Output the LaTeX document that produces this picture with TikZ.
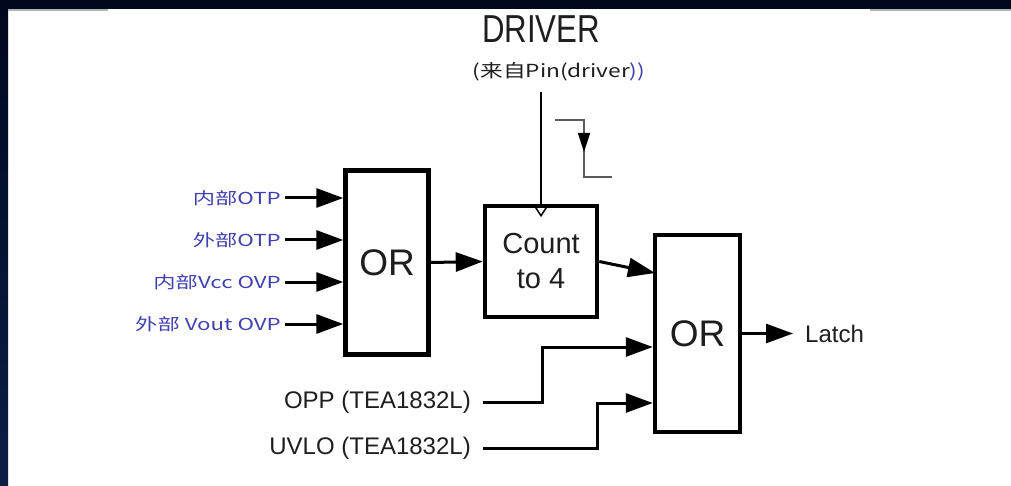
\documentclass[tikz,border=0pt]{standalone}
\usepackage{fontspec}
\setmainfont{Liberation Sans}
\newfontfamily\cjkf{Noto Sans CJK SC}
\usetikzlibrary{arrows.meta,calc}
\definecolor{navy}{RGB}{0,8,30}
\definecolor{navyb}{RGB}{10,30,70}
\definecolor{lblue}{RGB}{64,64,176}
\definecolor{txt}{RGB}{30,30,30}
\definecolor{edgegray}{RGB}{90,90,90}
\begin{document}
\begin{tikzpicture}[x=1pt,y=-1pt,
 blk/.style={draw=black,line width=4.5pt,fill=white,inner sep=0pt,text=txt},
 arr/.style={line width=3pt,-{Triangle[length=27pt,width=19pt]}},
 lbl/.style={anchor=east,inner sep=0pt,inner xsep=4pt,text=lblue,font=\cjkf\fontsize{16.5}{18}\selectfont},
 sig/.style={inner sep=0pt,inner xsep=12pt,text=txt,font=\fontsize{24}{26}\selectfont}]
\useasboundingbox (0,0) rectangle (1011,486);
\fill[white] (0,0) rectangle (1011,486);
\fill[navy] (0,0) rectangle (1011,9.3);
\shade[top color=navy,bottom color=navyb] (0,0) rectangle (8,486);
\draw[gray!60,line width=1.2pt] (8,10) -- (108,10);
\draw[gray!60,line width=1.2pt] (870,10) -- (1011,10);

% blocks
\node[blk,minimum width=83pt,minimum height=184pt,font=\fontsize{37}{40}\selectfont] (or1) at (387,262.5) {OR};
\node[blk,minimum width=112pt,minimum height=111pt,align=center,font=\fontsize{29}{35}\selectfont] (count) at (541,261.5) {Count\\to 4};
\node[blk,minimum width=85pt,minimum height=197pt,font=\fontsize{37}{40}\selectfont] (or2) at (697.5,333.5) {OR};

% input labels
\node[lbl] (i1) at (285,198) {\scalebox{1.35}[1]{内部OTP}};
\node[lbl] (i2) at (285,240) {\scalebox{1.35}[1]{外部OTP}};
\node[lbl] (i3) at (285,282) {\scalebox{1.35}[1]{内部Vcc OVP}};
\node[lbl] (i4) at (285,324) {\scalebox{1.35}[1]{外部 Vout OVP}};
\draw[arr] (i1.east) -- (i1.east -| or1.west);
\draw[arr] (i2.east) -- (i2.east -| or1.west);
\draw[arr] (i3.east) -- (i3.east -| or1.west);
\draw[arr] (i4.east) -- (i4.east -| or1.west);

% driver
\node[font=\fontsize{39}{42}\selectfont,text=txt,inner sep=0pt] (drv) at (541,29) {\scalebox{0.8}[1]{DRIVER}};
\node[font=\cjkf\fontsize{18}{20}\selectfont,text=txt,inner sep=0pt] (drvsrc) at (559,72) {\scalebox{1.26}[1]{(来自Pin(driver\textcolor{lblue}{))}}};
\coordinate (dtop) at (541,92);
\draw[line width=2pt] (dtop) -- (count.north);
\draw[line width=1.5pt,line join=miter] ($(count.north)+(-6.5,2)$) -- ($(count.north)+(0,12)$) -- ($(count.north)+(6.5,2)$);

% falling edge symbol
\draw[edgegray,line width=1.5pt] (555,120) -- (584,120) -- (584,177) -- (612,177);
\draw[line width=1.5pt,-{Triangle[length=19pt,width=12pt]}] (584,133) -- (584,152);

% main path
\draw[arr] (or1.east) -- (count.west);
\coordinate (c2) at (655,273);
\draw[arr] (count.east) -- (c2);

\node[sig,anchor=west] (latch) at (793,333.5) {Latch};
\draw[arr] (or2.east) -- (latch.west);

\node[sig,anchor=east] (opp) at (483,402) {OPP (TEA1832L)};
\coordinate (ok) at (542,347);
\draw[arr] (opp.east) -| (ok) -- (or2.west |- ok);

\node[sig,anchor=east] (uvlo) at (483,448) {UVLO (TEA1832L)};
\coordinate (uk) at (597,403);
\draw[arr] (uvlo.east) -| (uk) -- (or2.west |- uk);
\end{tikzpicture}
\end{document}
